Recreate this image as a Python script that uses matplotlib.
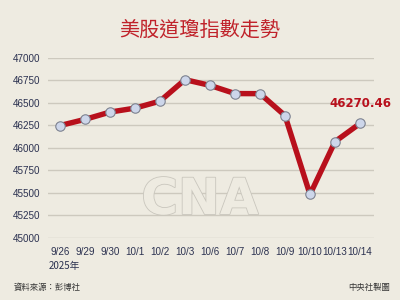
import matplotlib.pyplot as plt
import matplotlib.patheffects as pe

plt.rcParams["font.family"] = ["Noto Sans CJK TC", "DejaVu Sans"]

dates = ["9/26", "9/29", "9/30", "10/1", "10/2", "10/3", "10/6",
         "10/7", "10/8", "10/9", "10/10", "10/13", "10/14"]
dow = [46247, 46316, 46397, 46441, 46519, 46758, 46694,
       46603, 46602, 46358, 45480, 46068, 46270.46]
yticks = list(range(45000, 47001, 250))

bg = "#eeebe1"
red = "#b8101c"
navy = "#2b3150"

fig = plt.figure(figsize=(4, 3), dpi=100, facecolor=bg)
ax = fig.add_axes([0.12, 0.208, 0.815, 0.599], facecolor=bg)

x = list(range(len(dates)))
ax.plot(x, dow, color=red, lw=3.9, solid_joinstyle="round", zorder=3)
ax.plot(x, dow, ls="none", marker="o", ms=6.8, mfc="#cdd6ea",
        mec="#7d8290", mew=0.8, zorder=4)

ax.annotate(f"{dow[-1]:.2f}", (x[-1], dow[-1]), xytext=(0, 10),
            textcoords="offset points", ha="center", va="bottom",
            color=red, fontsize=8.5, fontweight="bold", family="DejaVu Sans")

ax.set_ylim(45000, 47000)
ax.set_xlim(-0.48, 12.56)
ax.set_yticks(yticks)
ax.set_yticklabels([str(v) for v in yticks])
ax.set_xticks(x)
ax.set_xticklabels(dates)
ax.tick_params(length=0, labelsize=7.1, labelcolor=navy)
ax.tick_params(axis="y", pad=5.5)
ax.tick_params(axis="x", pad=7)
for t in ax.get_xticklabels() + ax.get_yticklabels():
    t.set_family("Liberation Sans")
ax.yaxis.grid(True, color="#cdc9be", lw=1)
ax.set_axisbelow(True)
for s in ax.spines.values():
    s.set_visible(False)

# faint CNA watermark
fig.text(0.5, 0.333, "CNA", ha="center", va="center", fontsize=36,
         fontweight="bold", family="DejaVu Sans", color=bg, zorder=0,
         path_effects=[pe.withStroke(linewidth=1.2, foreground="#c9c6bd")])

fig.text(0.5, 0.9, "美股道瓊指數走勢", ha="center", va="center",
         fontsize=14.5, color="#c0222a")
fig.text(0.122, 0.113, "2025年", fontsize=7, color=navy, va="center")
fig.text(0.033, 0.043, "資料來源：彭博社", fontsize=6, color="#333333", va="center")
fig.text(0.975, 0.043, "中央社製圖", fontsize=6, color="#333333", va="center", ha="right")

fig.savefig("out.png", dpi=100, facecolor=bg)
